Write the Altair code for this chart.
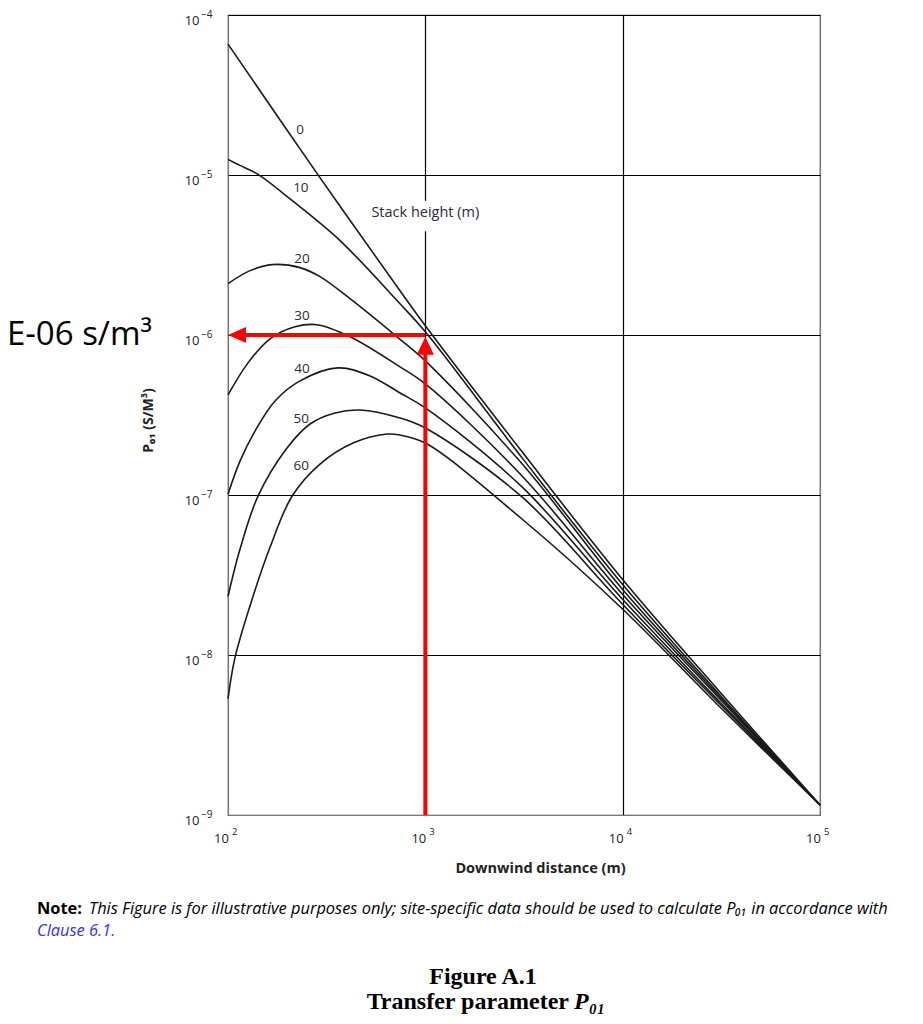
import altair as alt
import pandas as pd

# ---------------- data ----------------
stack_heights = [0, 10, 20, 30, 40, 50, 60]

dist_h0 = [100, 282.5, 744, 1000, 3100, 9800, 31000, 100000]
p01_h0 = [6.58e-5, 1.023e-5, 1.89e-6, 1.142e-6, 1.854e-7, 3.055e-8, 5.9e-9, 1.155e-9]

dist_h10 = [100, 115, 141.9, 211.1, 369.6, 744, 1000, 3100, 9800, 31000, 100000]
p01_h10 = [1.252e-5, 1.148e-5, 1.009e-5, 6.93e-6, 3.89e-6, 1.569e-6, 1.047e-6, 1.70e-7, 2.842e-8, 5.647e-9, 1.155e-9]

dist_h20 = [100, 129.3, 167.1, 231.7, 292.6, 415.3, 718.6, 1000, 3100, 9800, 31000, 100000]
p01_h20 = [2.093e-6, 2.525e-6, 2.753e-6, 2.637e-6, 2.315e-6, 1.686e-6, 9.743e-7, 6.89e-7, 1.56e-7, 2.644e-8, 5.486e-9, 1.155e-9]

dist_h30 = [100, 126.3, 163.3, 218.6, 282.5, 415.3, 744.3, 1000, 3100, 9800, 31000, 100000]
p01_h30 = [4.219e-7, 6.694e-7, 9.467e-7, 1.125e-6, 1.159e-6, 9.743e-7, 6.32e-7, 4.945e-7, 1.311e-7, 2.46e-8, 5.33e-9, 1.155e-9]

dist_h40 = [100, 115, 137, 173.1, 231.7, 361, 524.4, 744.3, 1000, 3100, 9800, 31000, 100000]
p01_h40 = [1.012e-7, 1.628e-7, 2.509e-7, 3.87e-7, 5.164e-7, 6.228e-7, 5.551e-7, 4.343e-7, 3.499e-7, 1.119e-7, 2.289e-8, 5.105e-9, 1.155e-9]

dist_h50 = [100, 115, 141.9, 199.1, 260.4, 348.5, 466.7, 744.3, 1000, 3100, 9800, 31000, 100000]
p01_h50 = [2.323e-8, 4.575e-8, 9.829e-8, 1.964e-7, 2.777e-7, 3.255e-7, 3.399e-7, 3.029e-7, 2.621e-7, 9.688e-8, 2.13e-8, 4.96e-9, 1.155e-9]

dist_h60 = [100, 108.5, 133.9, 163.3, 211.1, 292.6, 430.1, 639.5, 744.3, 1000, 3100, 9800, 31000, 100000]
p01_h60 = [5.33e-9, 9.632e-9, 2.323e-8, 4.709e-8, 9.829e-8, 1.56e-7, 2.111e-7, 2.404e-7, 2.37e-7, 2.111e-7, 7.053e-8, 1.982e-8, 4.75e-9, 1.155e-9]

label_text = ["0", "10", "20", "30", "40", "50", "60"]
label_dist = [232, 234, 237, 237, 237, 235, 235]
label_p01 = [1.90e-5, 8.24e-6, 3.00e-6, 1.32e-6, 6.14e-7, 2.99e-7, 1.52e-7]

x_ticks = [100, 1000, 10000, 100000]
x_exponents = ["2", "3", "4", "5"]
y_ticks = [1e-9, 1e-8, 1e-7, 1e-6, 1e-5, 1e-4]
y_exponents = ["−9", "−8", "−7", "−6", "−5", "−4"]

read_dist = 1000
read_p01 = 1e-6

# ---------------- build tables ----------------
series = [dist_h0, dist_h10, dist_h20, dist_h30, dist_h40, dist_h50, dist_h60]
values = [p01_h0, p01_h10, p01_h20, p01_h30, p01_h40, p01_h50, p01_h60]
rows = []
for h, xs, ys in zip(stack_heights, series, values):
    for xv, yv in zip(xs, ys):
        rows.append({"stack": h, "dist": xv, "p01": yv})
curves_df = pd.DataFrame(rows)
labels_df = pd.DataFrame({"dist": label_dist, "p01": label_p01, "text": label_text})
xexp_df = pd.DataFrame({"dist": x_ticks, "text": x_exponents})
yexp_df = pd.DataFrame({"p01": y_ticks, "text": y_exponents})

FONT = "Open Sans"
INK = "#222222"

x_scale = alt.Scale(type="log", domain=[100, 100000], nice=False)
y_scale = alt.Scale(type="log", domain=[1e-9, 1e-4], nice=False)

x_axis = alt.Axis(
    values=x_ticks,
    labelExpr="'10'",
    labelFlush=False,
    labelOverlap=False,
    grid=True,
    gridColor={"condition": {"test": "datum.value == 100 || datum.value == 100000", "value": "#777777"}, "value": "#000000"},
    gridWidth=1.2,
    domain=False,
    ticks=False,
    labelFont=FONT,
    labelFontSize=13,
    labelColor=INK,
    labelBaseline="middle",
    labelPadding=23,
    labelOffset=-7,
    title="Downwind distance (m)",
    titleFont=FONT,
    titleFontSize=14.5,
    titleFontWeight="bold",
    titleColor=INK,
    titleX=312,
    titleY=53,
    titleBaseline="middle",
    titleAlign="center",
)
y_axis = alt.Axis(
    values=y_ticks,
    labelExpr="'10'",
    labelFlush=False,
    labelOverlap=False,
    grid=True,
    gridColor={"condition": {"test": "datum.value < 2e-9", "value": "#777777"}, "value": "#000000"},
    gridWidth=1.2,
    domain=False,
    ticks=False,
    labelFont=FONT,
    labelFontSize=13,
    labelColor=INK,
    labelPadding=29,
    labelOffset=5,
    labelBaseline="middle",
    title="P₀₁ (S/M³)",
    titleFont=FONT,
    titleFontSize=14,
    titleFontWeight="bold",
    titleColor=INK,
    titleAngle=270,
    titleX=-80,
    titleY=405,
    titleBaseline="middle",
    titleAlign="center",
)

def X(field="dist"):
    return alt.X(f"{field}:Q", scale=x_scale, axis=x_axis)

def Y(field="p01"):
    return alt.Y(f"{field}:Q", scale=y_scale, axis=y_axis)

# white gap in the 10^3 grid line behind "Stack height (m)"
gap = alt.Chart(pd.DataFrame({"dist": [940], "dist2": [1065], "p01": [6.9e-6], "p01b": [4.45e-6]})).mark_rect(
    color="white"
).encode(x=X(), x2="dist2:Q", y=Y(), y2="p01b:Q")

curves = alt.Chart(curves_df).mark_line(
    interpolate="catmull-rom", color="#1a1a1a", strokeWidth=1.6
).encode(x=X(), y=Y(), detail="stack:N")

labels = alt.Chart(labels_df).mark_text(
    font=FONT, fontSize=13.5, color="#2a2a35", align="center", baseline="middle"
).encode(x=X(), y=Y(), text="text:N")

stack_title = alt.Chart(pd.DataFrame({"dist": [1000], "p01": [5.75e-6], "text": ["Stack height (m)"]})).mark_text(
    font=FONT, fontSize=14.5, color="#2a2a35", align="center", baseline="middle"
).encode(x=X(), y=Y(), text="text:N")

x_exp = alt.Chart(xexp_df).mark_text(
    font=FONT, fontSize=9.5, color=INK, align="left", baseline="middle", dx=4
).encode(x=X(), y=alt.value(817), text="text:N")
y_exp = alt.Chart(yexp_df).mark_text(
    font=FONT, fontSize=10, color=INK, align="left", baseline="middle", dy=0
).encode(x=alt.value(-27), y=Y(), text="text:N")

RED = "#ff0000"
h_arrow = alt.Chart(pd.DataFrame({"dist": [120], "dist2": [read_dist], "p01": [read_p01]})).mark_rule(
    color=RED, strokeWidth=4
).encode(x=X(), x2="dist2:Q", y=Y())
v_arrow = alt.Chart(pd.DataFrame({"dist": [read_dist], "p01": [1e-9], "p01b": [7.6e-7]})).mark_rule(
    color=RED, strokeWidth=4
).encode(x=X(), y=Y(), y2="p01b:Q")
head_left = alt.Chart(pd.DataFrame({"dist": [100], "p01": [read_p01]})).mark_point(
    filled=True, color=RED, opacity=1, size=324, strokeWidth=0
).encode(x=X(), y=Y(), shape=alt.value("M0,0L2,-0.9L2,0.9Z"))
head_up = alt.Chart(pd.DataFrame({"dist": [read_dist], "p01": [read_p01]})).mark_point(
    filled=True, color=RED, opacity=1, size=324, strokeWidth=0
).encode(x=X(), y=Y(), shape=alt.value("M0,0.2L-0.95,2.2L0.95,2.2Z"))

one = pd.DataFrame({"a": [0]})

def note(text, x, y, **kw):
    return alt.Chart(one).mark_text(**kw).encode(
        x=alt.value(x), y=alt.value(y), text=alt.value(text)
    )

big_value = note("E-06 s/m³", -76, 330, font=FONT, fontSize=33, color="#000000", align="right", baseline="alphabetic")
note_bold = note("Note:", -191, 894, font=FONT, fontSize=16.4, fontWeight="bold", color="#000000", align="left", baseline="middle")
note_rest = note(
    "This Figure is for illustrative purposes only; site-specific data should be used to calculate P₀₁ in accordance with",
    -139, 894, font=FONT, fontSize=16.4, fontStyle="italic", color="#000000", align="left", baseline="middle")
note_clause = note("Clause 6.1.", -191, 916, font=FONT, fontSize=16.4, fontStyle="italic", color="#3030ff", align="left", baseline="middle")
fig_num = note("Figure A.1", 255, 962, font="Liberation Serif", fontSize=24, fontWeight="bold", color="#000000", align="center", baseline="middle")
fig_title_a = note("Transfer parameter", 341, 987, font="Liberation Serif", fontSize=24, fontWeight="bold", color="#000000", align="right", baseline="middle")
fig_title_b = note("P₀₁", 346, 987, font="Liberation Serif", fontSize=24, fontWeight="bold", fontStyle="italic", color="#000000", align="left", baseline="middle")

chart = alt.layer(
    gap, curves, labels, stack_title, x_exp, y_exp, h_arrow, v_arrow, head_left, head_up,
    big_value, note_bold, note_rest, note_clause, fig_num, fig_title_a, fig_title_b,
).properties(
    width=592,
    height=800,
    autosize=alt.AutoSizeParams(type="none"),
    padding={"left": 220, "top": 7, "right": 95, "bottom": 201},
    background="white",
).configure_view(stroke="#444444", strokeWidth=1.2)

chart.save("out.html", embed_options={"renderer": "svg", "actions": False})
